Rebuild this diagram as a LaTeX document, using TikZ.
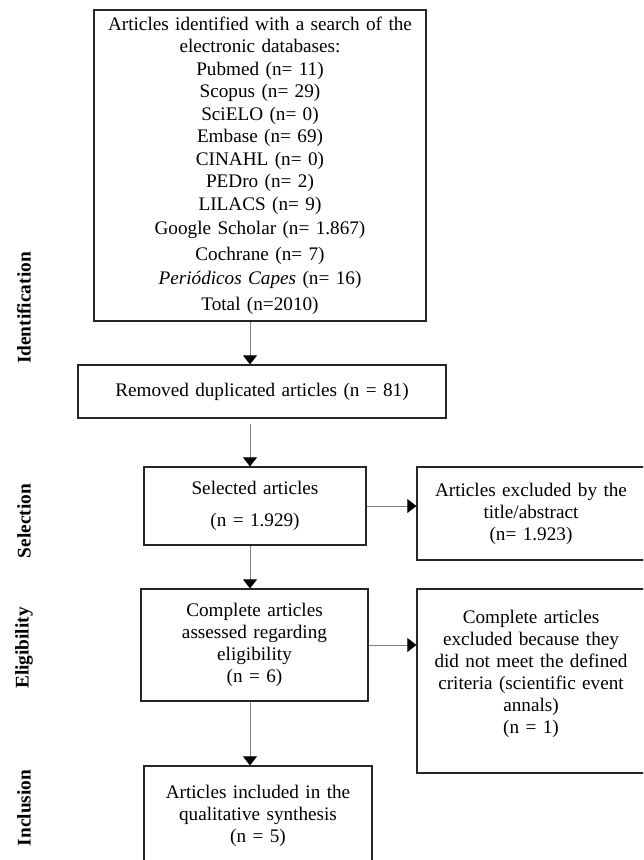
\documentclass[tikz,border=0pt]{standalone}
\usepackage{fontspec}
\setmainfont{Liberation Serif}
\usepackage{xcolor}
\usepackage{tikz}
\usetikzlibrary{arrows.meta,calc}
\definecolor{borde}{HTML}{262626}
\definecolor{linea}{HTML}{808080}

\begin{document}
\begin{tikzpicture}[x=0.75pt, y=-0.75pt,
  caja/.style={draw=borde, line width=0.9pt, align=center, inner xsep=6pt, inner ysep=0pt,
               font=\fontsize{14.4}{16.5}\selectfont},
  fase/.style={rotate=90, font=\fontsize{14.5}{16.5}\selectfont\bfseries},
  flecha/.style={-{Triangle[width=10.5pt,length=6.8pt,color=black]}, line width=0.75pt, linea}]
\useasboundingbox (0,0) rectangle (643,860);
\clip (0,0) rectangle (643,860);
\coordinate (eje) at (250,0);
\node[caja, text width=237pt, minimum height=233.25pt, font=\fontsize{14.4}{16.9}\selectfont] (top) at (260,165.5)
  {Articles identified with a search of the\\ electronic databases:\\ Pubmed (n= 11)\\ Scopus (n= 29)\\
   SciELO (n= 0)\\ Embase (n= 69)\\ CINAHL (n= 0)\\ PEDro (n= 2)\\ LILACS (n= 9)\\[1.1pt]
   Google Scholar (n= 1.867)\\[2.6pt] Cochrane (n= 7)\\[1.1pt] \textit{Periódicos Capes} (n= 16)\\[2.6pt] Total (n=2010)};
\node[caja, text width=264pt, minimum height=39.75pt] (rem) at (262,391.5) {Removed duplicated articles (n = 81)};
\node[caja, text width=154.5pt, minimum height=58.5pt] (sel) at (255,506) {Selected articles\\[7.5pt] (n = 1.929)};
\node[caja, text width=159pt, minimum height=69.75pt] (ex1) at (531,513.5) {Articles excluded by the\\ title/abstract\\ (n= 1.923)};
\node[caja, text width=158.25pt, minimum height=84pt] (eli) at (254.5,645) {Complete articles\\ assessed regarding\\ eligibility\\ (n = 6)};
\node[caja, text width=159pt, minimum height=138pt] (ex2) at (531,681)
  {Complete articles\\ excluded because they\\ did not meet the defined\\ criteria (scientific event\\ annals)\\ (n = 1)\\[-3pt]\mbox{}};
\node[caja, text width=159pt, minimum height=75pt] (inc) at (258,816) {Articles included in the\\ qualitative synthesis\\ (n = 5)};
% fases
\node[fase] (fid) at (24,308) {Identification};
\node[fase] (fsel) at (24,521) {Selection};
\node[fase] (feli) at (24,648) {Eligibility};
\node[fase] (finc) at (24,808) {Inclusion};
% flechas
\draw[flecha] (top.south -| eje) -- (rem.north -| eje);
\draw[flecha] ($(rem.south -| eje)+(0,5)$) -- (sel.north -| eje);
\draw[flecha] (sel.south -| eje) -- (eli.north -| eje);
\draw[flecha] (eli.south -| eje) -- (inc.north -| eje);
\draw[flecha] (sel.east) -- (sel.east -| ex1.west);
\draw[flecha] (eli.east) -- (eli.east -| ex2.west);
\end{tikzpicture}
\end{document}
